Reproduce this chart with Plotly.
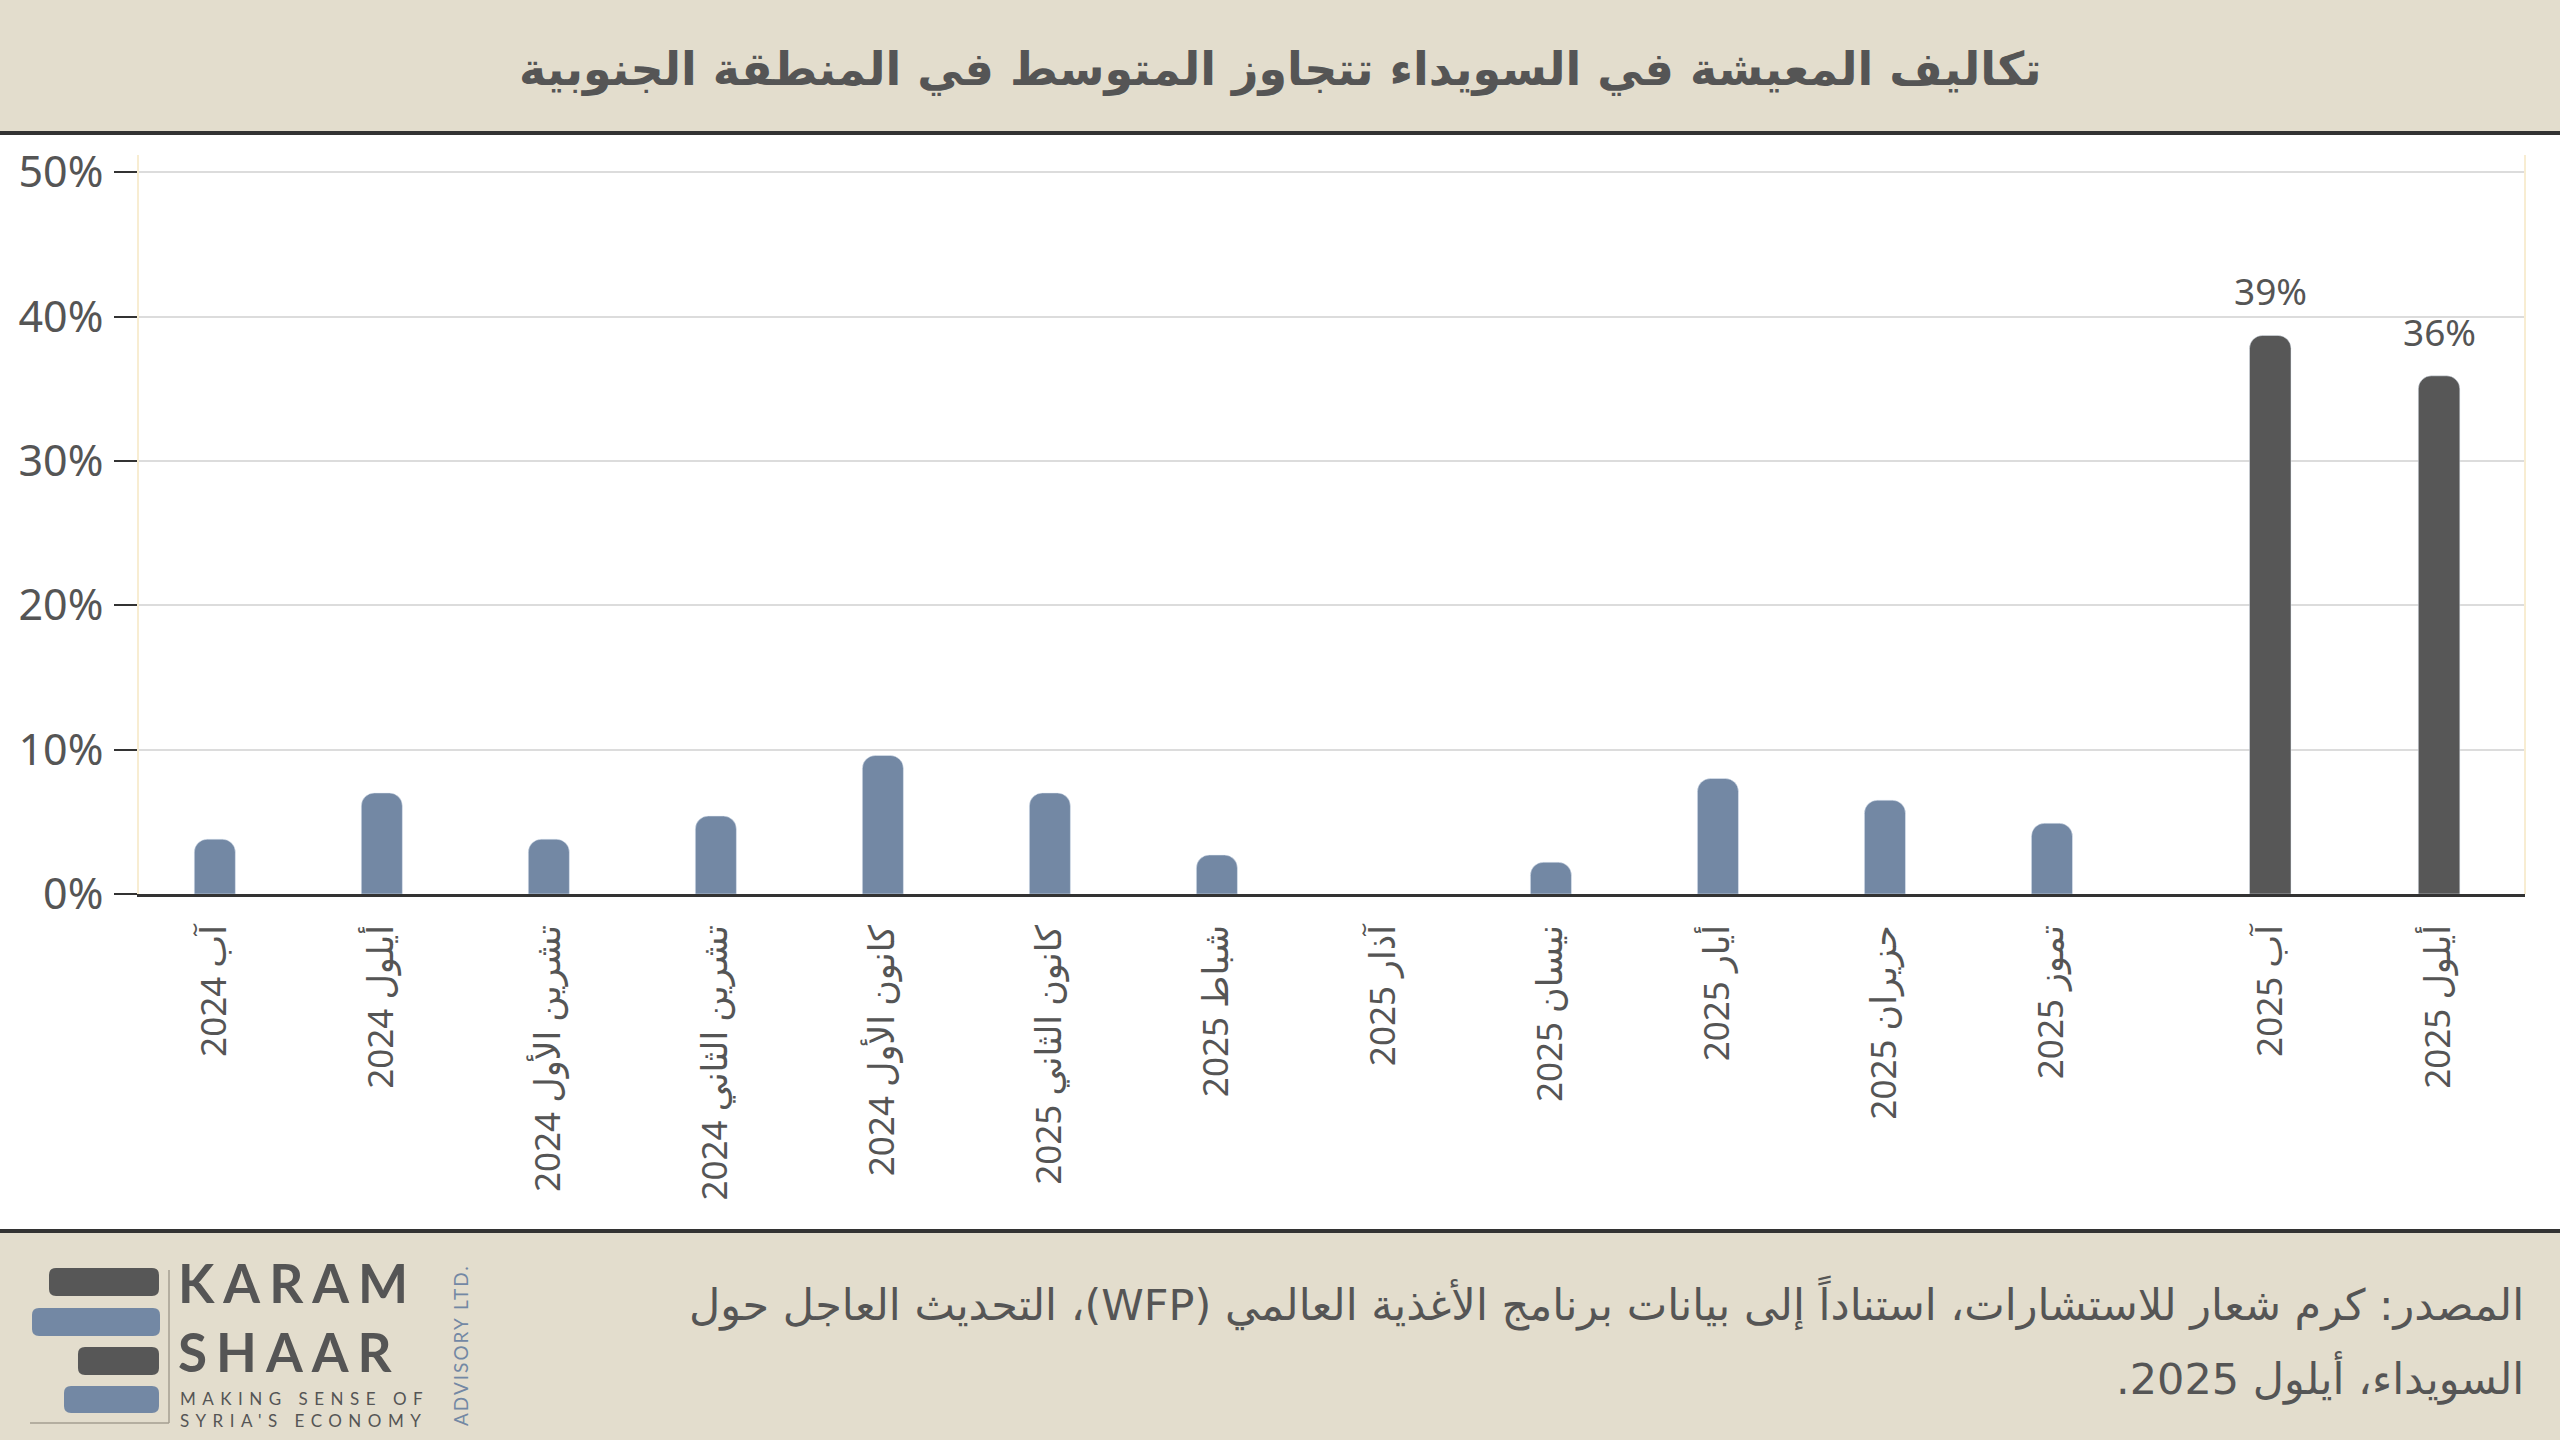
import plotly.graph_objects as go

# monthly values (%)
months_base = ["آب 2024", "أيلول 2024", "تشرين الأول 2024", "تشرين الثاني 2024",
               "كانون الأول 2024", "كانون الثاني 2025", "شباط 2025", "آذار 2025",
               "نيسان 2025", "أيار 2025", "حزيران 2025", "تموز 2025"]
values_base = [3.8, 7.0, 3.8, 5.4, 9.6, 7.0, 2.7, None, 2.2, 8.0, 6.5, 4.9]

months_recent = ["آب 2025", "أيلول 2025"]
values_recent = [38.7, 35.9]

y_ticks = [0, 10, 20, 30, 40, 50]
y_ticktext = [f"{v}%" for v in y_ticks]

title_text = "تكاليف المعيشة في السويداء تتجاوز المتوسط في المنطقة الجنوبية"
source_line1 = "المصدر: كرم شعار للاستشارات، استناداً إلى بيانات برنامج الأغذية العالمي (WFP)، التحديث العاجل حول"
source_line2 = "السويداء، أيلول 2025."

BLUE = "#7388A4"
DARK = "#575757"
TEXT = "#555555"
BEIGE = "#E3DDCD"
RTL = "\u202B{}\u202C"

# plot area in pixels (2560 x 1440 page)
L, R, T, B = 139, 2525, 155, 894
W, H = R - L, B - T


def px(x):
    return (x - L) / W


def py(y):
    return (B - y) / H


def rounded_rect(x0, y0, x1, y1, r):
    pts = [("M", x0 + r, y0), ("L", x1 - r, y0), ("Q", x1, y0, x1, y0 + r),
           ("L", x1, y1 - r), ("Q", x1, y1, x1 - r, y1), ("L", x0 + r, y1),
           ("Q", x0, y1, x0, y1 - r), ("L", x0, y0 + r), ("Q", x0, y0, x0 + r, y0)]
    out = ""
    for p in pts:
        cmd, coords = p[0], p[1:]
        conv = []
        for i in range(0, len(coords), 2):
            conv.append(f"{px(coords[i]):.5f},{py(coords[i + 1]):.5f}")
        out += cmd + " ".join(conv) + " "
    return out + "Z"


fig = go.Figure()
fig.add_trace(go.Bar(x=months_base, y=values_base, marker=dict(color=BLUE, cornerradius=13),
                     xaxis="x", yaxis="y", hoverinfo="x+y"))
fig.add_trace(go.Bar(x=months_recent, y=values_recent, marker=dict(color=DARK, cornerradius=13),
                     xaxis="x2", yaxis="y", hoverinfo="x+y"))

split = px(2160.5)
tickfont = dict(family="Noto Sans, DejaVu Sans", size=35, color=TEXT)
xcommon = dict(type="category", showgrid=False, showline=True, linecolor="#333333", linewidth=3,
               ticks="", tickangle=-90, tickfont=tickfont, ticklabelstandoff=14, fixedrange=True,
               anchor="y")
fig.update_layout(
    xaxis=dict(domain=[0, split], range=[-0.454, 11.65], **xcommon),
    xaxis2=dict(domain=[split, 1], range=[-0.65, 1.509], **xcommon),
    yaxis=dict(range=[0, 51.2], tickmode="array", tickvals=y_ticks, ticktext=y_ticktext,
               showgrid=True, gridcolor="#DCDCDC", gridwidth=2, zeroline=False, ticks="outside",
               ticklen=23, tickwidth=2, tickcolor="#333333", showline=True, linecolor="#F8EDD2",
               linewidth=2, tickfont=dict(family="Noto Sans", size=43, color=TEXT),
               ticklabelstandoff=2, fixedrange=True, anchor="x"),
    bargap=0.754,
    showlegend=False,
    width=2560, height=1440,
    margin=dict(l=L, r=2560 - R, t=T, b=1440 - B),
    paper_bgcolor="white", plot_bgcolor="white",
    font=dict(family="DejaVu Sans", color=TEXT),
)

# data labels on the highlighted months
for m, v in zip(months_recent, values_recent):
    fig.add_annotation(x=m, y=v, xref="x2", yref="y", text=f"{v:.0f}%", showarrow=False,
                       yanchor="bottom", yshift=17,
                       font=dict(family="Noto Sans", size=37, color=TEXT))

shapes = [
    # header band and rule
    dict(type="rect", xref="paper", yref="paper", x0=px(0), x1=px(2560), y0=py(0), y1=py(131),
         fillcolor=BEIGE, line_width=0, layer="below"),
    dict(type="line", xref="paper", yref="paper", x0=px(0), x1=px(2560), y0=py(133), y1=py(133),
         line=dict(color="#333333", width=4)),
    # footer band and rule
    dict(type="rect", xref="paper", yref="paper", x0=px(0), x1=px(2560), y0=py(1231), y1=py(1440),
         fillcolor=BEIGE, line_width=0, layer="below"),
    dict(type="line", xref="paper", yref="paper", x0=px(0), x1=px(2560), y0=py(1231), y1=py(1231),
         line=dict(color="#333333", width=4)),
    # right frame line
    dict(type="line", xref="paper", yref="paper", x0=1, x1=1, y0=0, y1=1,
         line=dict(color="#F8EDD2", width=2)),
    # logo
    dict(type="path", xref="paper", yref="paper", path=rounded_rect(49, 1268, 159, 1296, 7),
         fillcolor=DARK, line_width=0),
    dict(type="path", xref="paper", yref="paper", path=rounded_rect(32, 1308, 160, 1336, 7),
         fillcolor=BLUE, line_width=0),
    dict(type="path", xref="paper", yref="paper", path=rounded_rect(78, 1347, 159, 1375, 7),
         fillcolor=DARK, line_width=0),
    dict(type="path", xref="paper", yref="paper", path=rounded_rect(64, 1386, 159, 1413, 7),
         fillcolor=BLUE, line_width=0),
    dict(type="line", xref="paper", yref="paper", x0=px(169), x1=px(169), y0=py(1270), y1=py(1423),
         line=dict(color="#A59E90", width=1.5)),
    dict(type="line", xref="paper", yref="paper", x0=px(30), x1=px(169), y0=py(1423), y1=py(1423),
         line=dict(color="#A59E90", width=1.5)),
]
fig.update_layout(shapes=shapes)

# title
fig.add_annotation(x=px(1280), y=py(69), xref="paper", yref="paper", text=f"<b>{title_text}</b>",
                   showarrow=False, xanchor="center", yanchor="middle",
                   font=dict(family="DejaVu Sans", size=46, color=TEXT))

# source
for txt, yy in [(source_line1, 1303), (source_line2, 1378)]:
    fig.add_annotation(x=px(2526), y=py(yy), xref="paper", yref="paper", text=RTL.format(txt),
                       showarrow=False, xanchor="right", yanchor="middle", align="right",
                       font=dict(family="DejaVu Sans", size=43, color=TEXT))

# logo text (each block is one text element)
fig.add_annotation(x=px(176), y=py(1317), xref="paper", yref="paper",
                   text="<span style='letter-spacing:9px'><b>KARAM</b><br><b>SHAAR</b></span>",
                   showarrow=False, xanchor="left", yanchor="middle", align="left",
                   font=dict(family="Lato", size=53, color=TEXT))
fig.add_annotation(x=px(178), y=py(1409), xref="paper", yref="paper",
                   text="<span style='letter-spacing:6.5px'>MAKING SENSE OF</span><br>"
                        "<span style='letter-spacing:6.5px'>SYRIA'S ECONOMY</span>",
                   showarrow=False, xanchor="left", yanchor="middle", align="left",
                   font=dict(family="Lato", size=17, color=TEXT))
fig.add_annotation(x=px(460), y=py(1345), xref="paper", yref="paper",
                   text="<span style='letter-spacing:2px'>ADVISORY LTD.</span>",
                   showarrow=False, textangle=-90, xanchor="center", yanchor="middle",
                   font=dict(family="Lato", size=19, color=BLUE))

fig.write_html("out.html", config={"displayModeBar": False},
               post_script="document.body.style.margin='0px';document.body.style.overflow='hidden';")
